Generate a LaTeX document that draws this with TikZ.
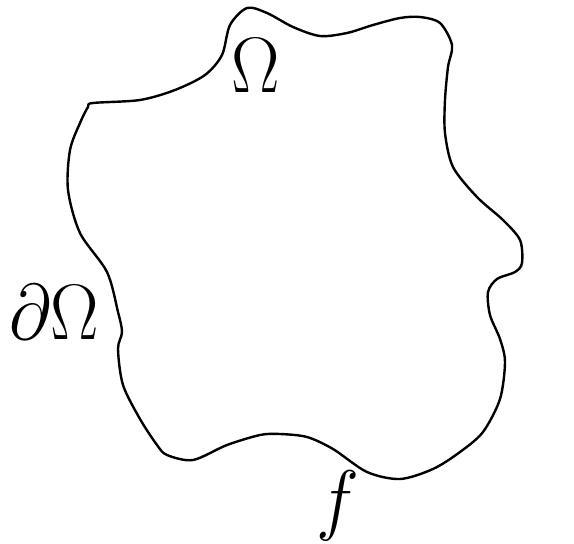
\documentclass[tikz,border=0pt]{standalone}
\usepackage{amsmath}
\usepackage{tikz}

\begin{document}
\begin{tikzpicture}[x=1pt, y=-1pt,
  boundary/.style={line width=2.4pt, line join=round},
  symbol/.style={font=\huge, inner sep=0pt, xscale=3.5, yscale=3.8}
]
\useasboundingbox (0,0) rectangle (574,544);

% the domain
\draw[boundary] plot[smooth cycle, tension=0.5] coordinates {
  (93,103) (140,100) (175,90) (205,75) (222,55) (230,25) (247,8)
  (267,13) (293,27) (320,36) (347,33) (373,25) (400,18) (420,17)
  (440,23) (452,45) (448,67) (445,100) (445,133) (453,167) (477,197)
  (503,220) (520,240) (522,263) (515,272) (497,279) (488,292) (490,315)
  (500,339) (505,362) (500,399) (483,432) (460,452) (433,469) (400,479)
  (367,472) (333,449) (307,437) (280,434) (260,435) (227,445) (193,460)
  (167,455) (157,445) (140,419) (123,385) (118,349) (122,332) (118,312)
  (107,272) (80,233) (68,190) (70,150) (80,123) (88,107)};

\node[symbol] (omega) at (256,66) {$\Omega$};
\node[symbol] (bdry) at (54,312) {$\partial\Omega$};
\node[symbol] (data) at (338,506) {$f$};
\end{tikzpicture}
\end{document}
